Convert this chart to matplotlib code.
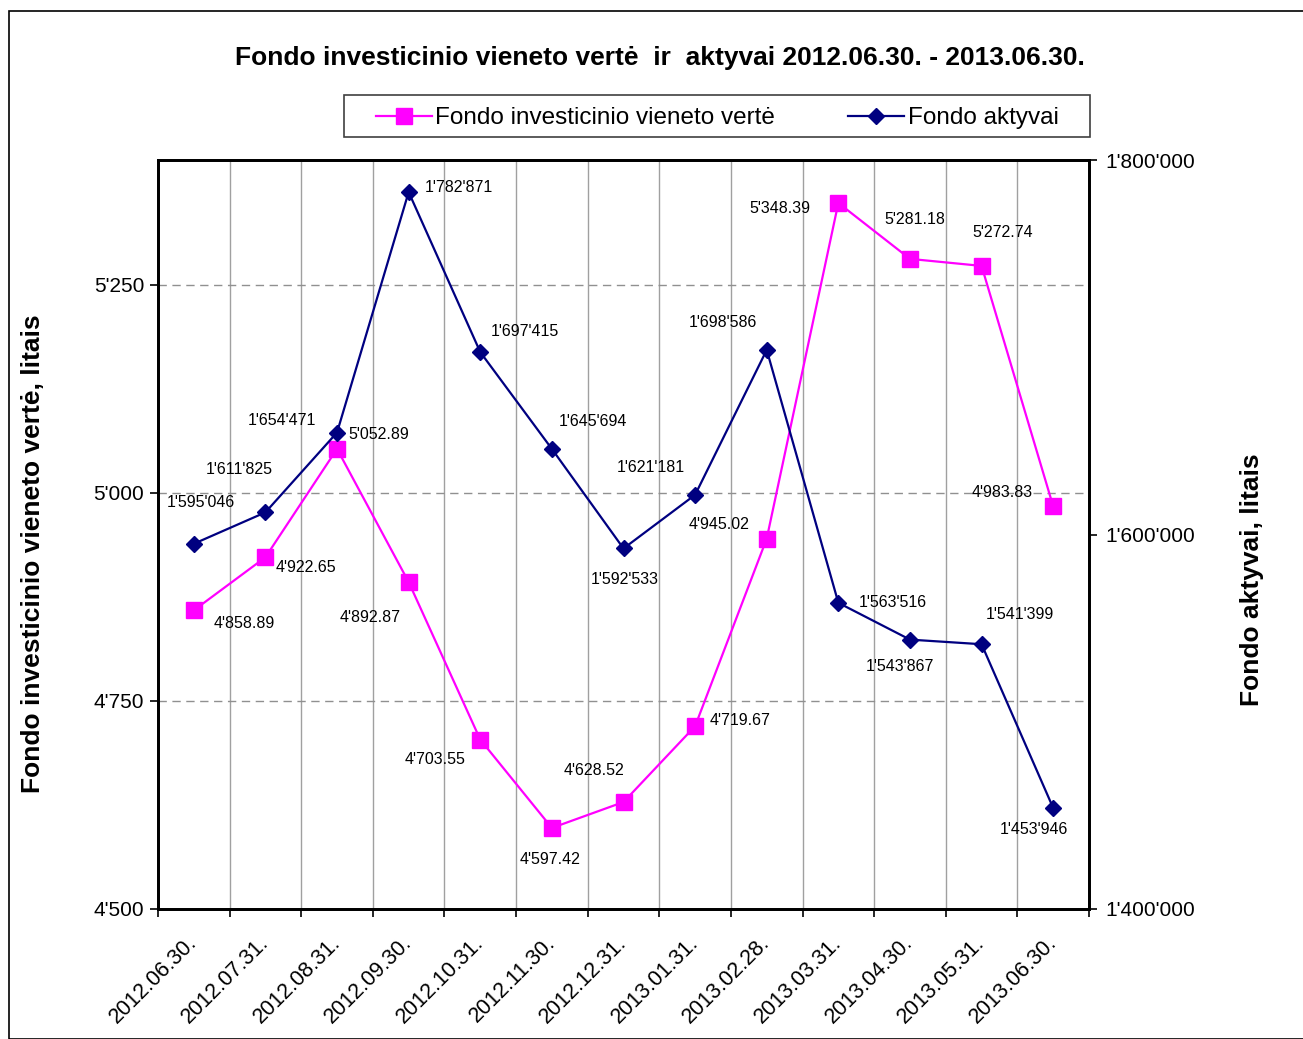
import matplotlib.pyplot as plt
from matplotlib.ticker import FuncFormatter, FixedLocator
from matplotlib.lines import Line2D
from matplotlib.patches import Rectangle

plt.rcParams['font.family'] = ['Liberation Sans', 'DejaVu Sans']

dates = ["2012.06.30.", "2012.07.31.", "2012.08.31.", "2012.09.30.", "2012.10.31.",
         "2012.11.30.", "2012.12.31.", "2013.01.31.", "2013.02.28.", "2013.03.31.",
         "2013.04.30.", "2013.05.31.", "2013.06.30."]
unit_value = [4858.89, 4922.65, 5052.89, 4892.87, 4703.55, 4597.42, 4628.52,
              4719.67, 4945.02, 5348.39, 5281.18, 5272.74, 4983.83]
assets = [1595046, 1611825, 1654471, 1782871, 1697415, 1645694, 1592533,
          1621181, 1698586, 1563516, 1543867, 1541399, 1453946]

# label offsets in pixels (dx, dy up)
uv_off = [(50, -13), (41, -10), (42, 14), (-39, -35), (-45, -20), (-2, -32), (-30, 32),
          (45, 6), (-48, 14), (-58, -6), (5, 39), (21, 33), (-51, 14)]
as_off = [(7, 41), (-26, 43), (-55, 12), (50, 5), (45, 21), (41, 27), (1, -31),
          (-44, 27), (-44, 27), (54, 0), (-10, -27), (38, 30), (-19, -22)]

MAG = '#FF00FF'
NAVY = '#000080'


def apos(v, dec=0):
    return f"{v:,.{dec}f}".replace(',', "'")


W, H = 1303, 1039
fig = plt.figure(figsize=(W / 100, H / 100), dpi=100)
ax = fig.add_axes([158 / W, 1 - 909 / H, (1089 - 158) / W, (909 - 160) / H])
ax2 = ax.twinx()

x = list(range(len(dates)))
ax.plot(x, unit_value, color=MAG, lw=1.6, marker='s', ms=11, zorder=3)
ax2.plot(x, assets, color=NAVY, lw=1.6, marker='D', ms=8, zorder=3)

for i, v in enumerate(unit_value):
    ax.annotate(apos(v, 2), (i, v), xytext=uv_off[i], textcoords='offset pixels',
                ha='center', va='center', fontsize=11.5)
for i, v in enumerate(assets):
    ax2.annotate(apos(v), (i, v), xytext=as_off[i], textcoords='offset pixels',
                 ha='center', va='center', fontsize=11.5)

ax.set_xlim(-0.5, len(dates) - 0.5)
ax.set_ylim(4500, 5400)
ax2.set_ylim(1400000, 1800000)

ax.yaxis.set_major_locator(FixedLocator([4500, 4750, 5000, 5250]))
ax.yaxis.set_major_formatter(FuncFormatter(lambda v, p: apos(v)))
ax2.yaxis.set_major_locator(FixedLocator([1400000, 1600000, 1800000]))
ax2.yaxis.set_major_formatter(FuncFormatter(lambda v, p: apos(v)))

ax.set_xticks(x)
ax.set_xticklabels(dates, rotation=45, ha='right', va='center', rotation_mode='anchor')
ax.tick_params(axis='x', length=0, pad=22, labelsize=15.5)
ax.set_xticks([i - 0.5 for i in range(len(dates) + 1)], minor=True)
ax.tick_params(axis='x', which='minor', length=6, width=1.2, direction='out')
ax.tick_params(axis='y', labelsize=15, length=6, width=1.2, direction='out', pad=4)
ax2.tick_params(axis='y', labelsize=15, length=6, width=1.2, direction='out', pad=6)

for b in range(1, len(dates)):
    ax.axvline(b - 0.5, color='#a0a0a0', lw=1, zorder=0)
for t in [4750, 5000, 5250]:
    ax.axhline(t, color='#909090', lw=1, ls=(0, (6, 4)), zorder=0)

for a in (ax, ax2):
    for s in a.spines.values():
        s.set_linewidth(2)

fig.text(660 / W, 1 - 58 / H, "Fondo investicinio vieneto vertė  ir  aktyvai 2012.06.30. - 2013.06.30.",
         ha='center', va='center', fontsize=19, fontweight='bold')
fig.text(33 / W, 1 - 554 / H, "Fondo investicinio vieneto vertė, litais", rotation=90,
         ha='center', va='center', fontsize=19, fontweight='bold')
fig.text(1252 / W, 1 - 580 / H, "Fondo aktyvai, litais", rotation=90,
         ha='center', va='center', fontsize=19, fontweight='bold')

handles = [Line2D([], [], color=MAG, lw=1.6, marker='s', ms=11),
           Line2D([], [], color=NAVY, lw=1.6, marker='D', ms=8)]
leg = fig.legend(handles, ["Fondo investicinio vieneto vertė", "Fondo aktyvai"],
                 loc='center', bbox_to_anchor=(717 / W, 1 - 118 / H), ncol=2,
                 fontsize=17.5, frameon=False,
                 handlelength=2.3, handletextpad=0.15, columnspacing=3.0,
                 borderpad=0.35)
fig.patches.append(Rectangle((344 / W, 1 - 137 / H), (1090 - 344) / W, 42 / H,
                             transform=fig.transFigure, fill=False,
                             edgecolor='#404040', lw=1.2))

fig.patches.append(Rectangle((9 / W, 0), 1.5, 1 - 11 / H, transform=fig.transFigure,
                             fill=False, edgecolor='black', lw=1.2))

fig.savefig("out.png", dpi=100)
